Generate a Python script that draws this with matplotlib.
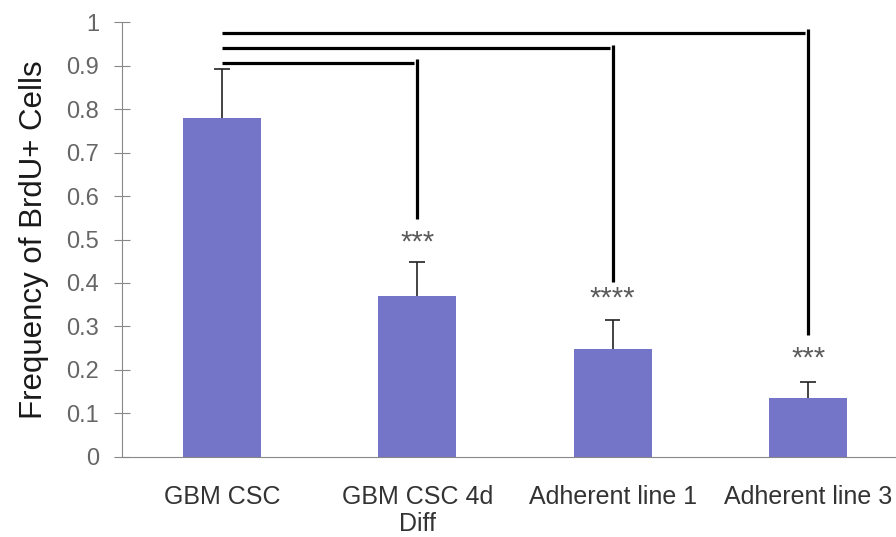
import matplotlib
matplotlib.use("Agg")
import matplotlib.pyplot as plt

categories = ["GBM CSC", "GBM CSC 4d\nDiff", "Adherent line 1", "Adherent line 3"]
values = [0.779, 0.370, 0.248, 0.136]
errors = [0.113, 0.078, 0.067, 0.036]
# significance brackets: target bar, bracket level, bottom of vertical drop, star label, star y
bracket_target = [1, 2, 3]
bracket_level = [0.906, 0.940, 0.975]
bracket_bottom = [0.548, 0.402, 0.280]
star_labels = ["***", "****", "***"]
star_y = [0.492, 0.364, 0.226]
yticks = [0, 0.1, 0.2, 0.3, 0.4, 0.5, 0.6, 0.7, 0.8, 0.9, 1]
ytick_labels = ["0", "0.1", "0.2", "0.3", "0.4", "0.5", "0.6", "0.7", "0.8", "0.9", "1"]

plt.rcParams['font.family'] = ['Liberation Sans', 'DejaVu Sans']

fig = plt.figure(figsize=(8.96, 5.37), dpi=100)
ax = fig.add_axes([0.136, 0.149, 0.864, 0.810])

x = list(range(len(categories)))
bar_w = 0.4
cap_w = 0.08
ax.bar(x, values, width=bar_w, color="#7474C8", zorder=2)
tops = [v + e for v, e in zip(values, errors)]
ax.vlines(x, values, tops, color="#222222", lw=1.2, zorder=3)
ax.hlines(tops, [xi - cap_w / 2 for xi in x], [xi + cap_w / 2 for xi in x],
          color="#222222", lw=1.2, zorder=3)

for t, lvl, bot, lab, sy in zip(bracket_target, bracket_level, bracket_bottom, star_labels, star_y):
    ax.plot([x[0], x[t] - 0.015], [lvl, lvl], color="black", lw=2.3, solid_capstyle="butt", zorder=4)
    ax.plot([x[t], x[t]], [lvl + 0.008, bot], color="black", lw=2.3, solid_capstyle="butt", zorder=4)
    ax.text(x[t], sy, lab, ha="center", va="center", fontsize=21, color="#5a5a5a")

ax.set_xlim(-0.512, 3.45)
ax.set_ylim(0, 1)
ax.set_yticks(yticks)
ax.set_yticklabels(ytick_labels, fontsize=17, color="#666666")
ax.set_xticks(x)
ax.set_xticklabels(categories, fontsize=18, color="#333333")
ax.tick_params(axis="x", length=0, pad=20)
ax.tick_params(axis="y", direction="inout", length=11, color="#888888", pad=11)
for lab in ax.get_xticklabels():
    lab.set_linespacing(1.15)
for s in ["top", "right"]:
    ax.spines[s].set_visible(False)
ax.spines["left"].set_color("#888888")
ax.spines["bottom"].set_color("#888888")
ax.set_ylabel("Frequency of BrdU+ Cells", fontsize=22.5, color="#1a1a1a", labelpad=12)

fig.savefig("out.png", dpi=100)
